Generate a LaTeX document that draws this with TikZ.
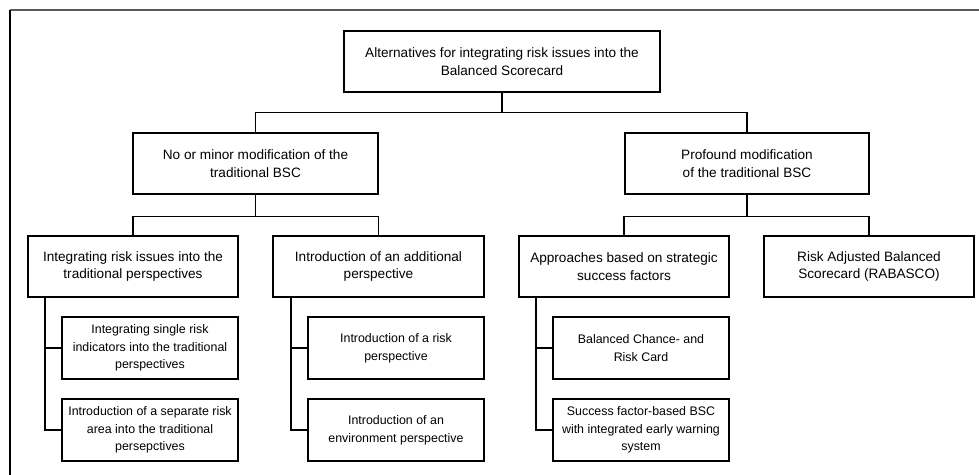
\documentclass[tikz,border=0pt]{standalone}
\usepackage{fontspec}
\setmainfont{Liberation Sans}
\begin{document}
\begin{tikzpicture}[x=0.75pt,y=-0.75pt,
  box/.style={draw=black,line width=0.8pt,align=center,inner sep=0pt,
    font=\fontsize{10.2}{13.1}\selectfont},
  smallbox/.style={box,font=\fontsize{9.3}{13.3}\selectfont,
    minimum width=176*0.75pt,minimum height=62*0.75pt},
  lvlthree/.style={box,minimum width=210*0.75pt,minimum height=61*0.75pt},
  conn/.style={draw=black,line width=0.8pt}]
\useasboundingbox (0,0) rectangle (979,475);
% frame (top and left edges)
\draw[line width=1.2pt,black!65] (10,10) -- (979,10);
\draw[line width=1.4pt,black] (10,10) -- (10,475);
% level 1
\node[box,minimum width=316*0.75pt,minimum height=61*0.75pt] (top) at (502,61.5)
  {Alternatives for integrating risk issues into the\\Balanced Scorecard};
% level 2
\node[box,minimum width=245*0.75pt,minimum height=61*0.75pt] (Ltwo) at (255.5,163.5)
  {No or minor modification of the\\traditional BSC};
\node[box,minimum width=244*0.75pt,minimum height=61*0.75pt] (Rtwo) at (747,163.5)
  {Profound modification\\of the traditional BSC};
% level 3
\node[lvlthree] (A) at (133,266.5) {Integrating risk issues into the\\traditional perspectives};
\node[lvlthree,minimum width=211*0.75pt] (B) at (378.5,266.5) {Introduction of an additional\\perspective};
\node[lvlthree] (C) at (624,266.5) {Approaches based on strategic\\success factors};
\node[lvlthree] (D) at (869,266.5) {Risk Adjusted Balanced\\Scorecard (RABASCO)};
% level 4
\node[smallbox] (Aone) at (150,348) {Integrating single risk\\indicators into the traditional\\perspectives};
\node[smallbox] (Atwo) at (150,430) {Introduction of a separate risk\\area into the traditional\\persepctives};
\node[smallbox] (Bone) at (396,348) {Introduction of a risk\\perspective};
\node[smallbox] (Btwo) at (396,430) {Introduction of an\\environment perspective};
\node[smallbox] (Cone) at (641,348) {Balanced Chance- and\\Risk Card};
\node[smallbox] (Ctwo) at (641,430) {Success factor-based BSC\\with integrated early warning\\system};
% connectors
\draw[conn] (top.south) -- ++(0,20) coordinate (jt) -| (Ltwo.north);
\draw[conn] (jt) -| (Rtwo.north);
\draw[conn] (Ltwo.south) -- ++(0,22) coordinate (jl) -| (A.north);
\draw[conn] (jl) -| (B.north);
\draw[conn] (Rtwo.south) -- ++(0,22) coordinate (jr) -| (C.north);
\draw[conn] (jr) -| (D.north);
\coordinate (sA) at (45,297);
\coordinate (sB) at (291,297);
\coordinate (sC) at (536,297);
\draw[conn] (sA) |- (Aone.west);
\draw[conn] (sA) |- (Atwo.west);
\draw[conn] (sB) |- (Bone.west);
\draw[conn] (sB) |- (Btwo.west);
\draw[conn] (sC) |- (Cone.west);
\draw[conn] (sC) |- (Ctwo.west);
\end{tikzpicture}
\end{document}
